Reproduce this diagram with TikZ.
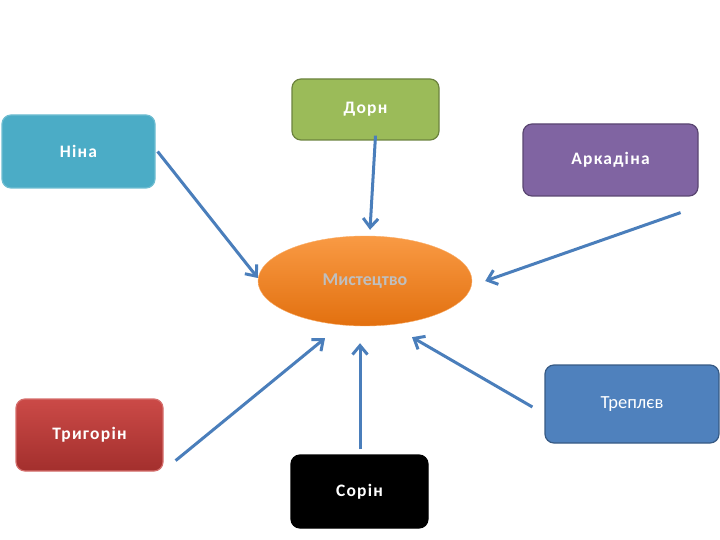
\documentclass[tikz,border=0pt]{standalone}
\usepackage{fontspec}
\setmainfont{Carlito}
\newfontfamily\spaced[LetterSpace=7]{Carlito}
\usetikzlibrary{arrows.meta,shapes.geometric}
\definecolor{ninacol}{HTML}{4BACC6}
\definecolor{dorncol}{HTML}{9BBB59}
\definecolor{arkcol}{HTML}{8064A2}
\definecolor{trepcol}{HTML}{4F81BD}
\definecolor{trigtop}{HTML}{CB4A47}
\definecolor{trigbot}{HTML}{A32F2D}
\definecolor{arttop}{HTML}{F99A44}
\definecolor{artbot}{HTML}{E2700F}
\definecolor{linkcol}{HTML}{4A7EBB}
\begin{document}
\begin{tikzpicture}[x=1pt,y=-1pt,
	rolebox/.style={rectangle,rounded corners=9pt,line width=1.2pt,text=white,font=\spaced\bfseries\fontsize{17.5}{20}\selectfont},
	link/.style={linkcol,line width=3pt,-{Straight Barb[length=9pt,width=15pt,line width=3pt]}}]
	\useasboundingbox (0,0) rectangle (720,540);
	
	\node[rolebox,fill=ninacol,draw=ninacol!80,minimum width=153pt,minimum height=73pt] (nina) at (78.5,151.5) {Ніна};
	\node[rolebox,fill=dorncol,draw=dorncol!70!black,minimum width=147pt,minimum height=61pt] (dorn) at (365.5,109.5) {Дорн};
	\node[rolebox,fill=arkcol,draw=arkcol!70!black,minimum width=175pt,minimum height=72pt] (ark) at (610.5,160) {Аркадіна};
	\node[rolebox,fill=trepcol,draw=trepcol!70!black,minimum width=174pt,minimum height=78pt,font=\fontsize{18.5}{20}\selectfont] (trep) at (632,404) {Треплєв};
	\node[rolebox,top color=trigtop,bottom color=trigbot,draw=trigtop!80!white,minimum width=147pt,minimum height=72pt] (trig) at (89.5,435) {Тригорін};
	\node[rolebox,fill=black,draw=black,minimum width=137pt,minimum height=73pt] (sorin) at (359.5,491.5) {Сорін};
	
	\node[ellipse,minimum width=214pt,minimum height=90pt,top color=arttop,bottom color=artbot,draw=arttop!80!white,text=black!25,font=\bfseries\fontsize{18}{20}\selectfont] (art) at (365,281) {Мистецтво};
	
	\draw[link] ([xshift=2pt]nina.east) -- ([yshift=3pt]art.west);
	\draw[link] ([xshift=10pt,yshift=5pt]dorn.south) -- ([xshift=5pt,yshift=6pt]art.north);
	\draw[link] ([xshift=-18pt,yshift=-16pt]ark.south east) -- ([xshift=13pt]art.east);
	\draw[link] ([xshift=-12pt,yshift=-3pt]trep.west) -- ([xshift=47pt,yshift=-11pt]art.south);
	\draw[link] ([xshift=0.5pt,yshift=5pt]sorin.north) -- ([xshift=-5pt,yshift=-17pt]art.south);
	\draw[link] ([xshift=12pt,yshift=11pt]trig.south east) -- ([xshift=-40pt,yshift=-12pt]art.south);
\end{tikzpicture}
\end{document}
